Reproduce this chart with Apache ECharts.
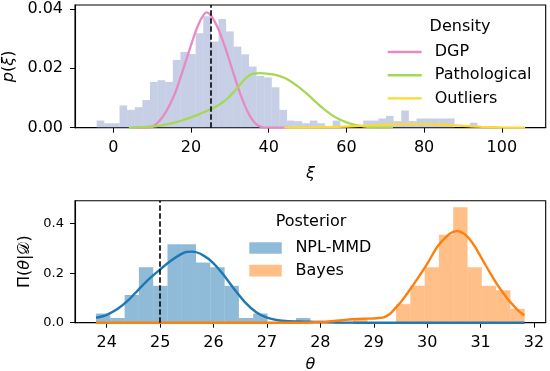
<!DOCTYPE html>
<html><head><meta charset="utf-8">
<script src="https://cdn.jsdelivr.net/npm/echarts@6/dist/echarts.min.js"></script>
<style>html,body{margin:0;padding:0;background:#fff}#c{width:550px;height:371px}</style>
</head><body><div id="c"></div>
<script>
// ---------- Top panel: density of xi ----------
const xiBinStart = -4.28;
const xiBinWidth = 1.96;
const xiHist = [0.0024,0.0015,0.0015,0.0075,0.0060,0.0069,0.0093,0.0154,0.0160,0.0154,
                0.0228,0.0255,0.0248,0.0318,0.0375,0.0290,0.0366,0.0324,0.0273,0.0247,
                0.0206,0.0174,0.0169,0.0136,0.0060,0.0024,0.0022,0.0015,0.0024,0.0015,
                0.0000,0.0024,0.0000,0.0000,0.0000,0.0024,0.0024,0.0031,0.0040,0.0022,
                0.0058,0.0022,0.0031,0.0031,0.0031,0.0031,0.0031,0.0000,0.0000,0.0017];
const dgpCurve = [[5,0],[8,0],[10,0.0003],[11,0.0012],[12,0.0025],[13,0.0042],[14,0.0064],[15,0.0090],
                  [16,0.0120],[17,0.0157],[18,0.0197],[19,0.0238],[20,0.0278],[21,0.0317],[22,0.0350],
                  [23,0.0375],[24,0.0388],[25,0.0380],[26,0.0360],[27,0.0333],[28,0.0300],[29,0.0262],
                  [30,0.0222],[31,0.0180],[32,0.0140],[33,0.0103],[34,0.0070],[35,0.0043],[36,0.0023],
                  [37,0.0010],[38,0.0003],[39,0],[45,0]];
const pathCurve = [[4,0],[6,0.0001],[8,0.0002],[10,0.0004],[12,0.0007],[14,0.0012],[16,0.0018],
                   [18,0.0026],[20,0.0035],[22,0.0045],[24,0.0056],[26,0.0068],[28,0.0084],[30,0.0106],
                   [32,0.0135],[34,0.0165],[36,0.0182],[38,0.0184],[40,0.0181],[42,0.0177],[44,0.0168],
                   [46,0.0153],[48,0.0134],[50,0.0112],[52,0.0088],[54,0.0065],[56,0.0045],[58,0.0029],
                   [60,0.0018],[62,0.0010],[64,0.0005],[66,0.0002],[68,0.0001],[72,0]];
const outCurve = [[44,0],[50,0.0001],[55,0.0002],[60,0.0004],[65,0.0007],[70,0.0010],[75,0.0012],
                  [80,0.0012],[85,0.0010],[90,0.0006],[95,0.0003],[100,0.0001],[106,0]];
const xiTicks = [0,20,40,60,80,100];
const pTicks = [0,0.02,0.04];
const xiTrue = 25;

// ---------- Bottom panel: posterior of theta ----------
const thetaBinStart = 23.80;
const thetaBinWidth = 0.2675;
const nplHist = [0.037,0.019,0.112,0.224,0.149,0.317,0.317,0.243,0.224,0.149,
                 0.019,0.037,0,0,0.019,0,0,0,0,0,
                 0,0,0,0,0,0,0,0,0,0];
const bayesHist = [0,0,0,0,0,0,0,0,0,0,
                   0,0,0,0,0,0,0,0,0.019,0,
                   0,0.075,0.149,0.224,0.355,0.466,0.224,0.149,0.131,0.056];
const nplCurve = [[23.8,0.020],[24.0,0.032],[24.2,0.055],[24.4,0.090],[24.6,0.135],[24.8,0.178],
                  [25.0,0.215],[25.2,0.250],[25.4,0.278],[25.5,0.286],[25.6,0.287],[25.8,0.273],
                  [26.0,0.240],[26.2,0.190],[26.4,0.132],[26.6,0.080],[26.8,0.042],[27.0,0.020],
                  [27.2,0.010],[27.4,0.006],[27.6,0.005],[27.8,0.004],[28.0,0.003],[28.2,0.0015],
                  [28.4,0.0007],[28.6,0.0002],[28.8,0],[31.82,0]];
const bayesCurve = [[23.8,0],[27.4,0],[27.8,0.001],[28.0,0.003],[28.2,0.006],[28.4,0.010],[28.6,0.014],
                    [28.8,0.016],[29.0,0.017],[29.1,0.019],[29.2,0.023],[29.3,0.035],[29.4,0.058],
                    [29.5,0.082],[29.6,0.110],[29.8,0.172],[30.0,0.238],[30.2,0.310],[30.4,0.356],
                    [30.5,0.368],[30.55,0.370],[30.6,0.369],[30.7,0.358],[30.8,0.336],[30.9,0.305],
                    [31.0,0.268],[31.1,0.230],[31.2,0.193],[31.3,0.158],[31.4,0.127],[31.5,0.098],
                    [31.6,0.073],[31.7,0.050],[31.82,0.030]];
const thetaTicks = [24,25,26,27,28,29,30,31,32];
const postTicks = [0,0.2,0.4];
const thetaTrue = 25;

const FONT = 'DejaVu Sans';

function binsToRects(start, width, heights) {
  const out = [];
  heights.forEach((h, i) => { if (h > 0) out.push([start + i * width, start + (i + 1) * width, h]); });
  return out;
}
function histRender(params, api) {
  const p0 = api.coord([api.value(0), api.value(2)]);
  const p1 = api.coord([api.value(1), 0]);
  return { type: 'rect', shape: { x: p0[0], y: p0[1], width: p1[0] - p0[0], height: p1[1] - p0[1] },
           style: { fill: api.visual('color') } };
}
function dashed(x) {
  return { silent: true, symbol: ['none','none'], label: { show: false },
           lineStyle: { color: '#000', type: [5.5, 2.5], width: 1.6 }, data: [{ xAxis: x }], z: 20 };
}

const chart = echarts.init(document.getElementById('c'), null, { renderer: 'canvas' });
const axisCommon = {
  axisLine: { show: true, onZero: false, lineStyle: { color: '#000', width: 1.1 } },
  axisTick: { show: true, length: 5, lineStyle: { color: '#000', width: 1 } },
  splitLine: { show: false }
};
chart.setOption({
  animation: false,
  backgroundColor: '#fff',
  textStyle: { fontFamily: FONT },
  grid: [
    { left: 75, right: 4.3, top: 5, height: 122.7, show: true, borderColor: '#000', borderWidth: 1.1,
      backgroundColor: 'transparent', containLabel: false, outerBoundsMode: 'none' },
    { left: 75, right: 4.3, top: 200.7, height: 122, show: true, borderColor: '#000', borderWidth: 1.1,
      backgroundColor: 'transparent', containLabel: false, outerBoundsMode: 'none' }
  ],
  xAxis: [
    Object.assign({}, axisCommon, { type: 'value', gridIndex: 0, min: -9.86, max: 111.3,
      axisTick: Object.assign({}, axisCommon.axisTick, { customValues: xiTicks }),
      axisLabel: { customValues: xiTicks, color: '#000', fontSize: 16, fontFamily: FONT, margin: 12 },
      name: '{i|ξ}', nameLocation: 'middle', nameGap: 38,
      nameTextStyle: { rich: { i: { fontStyle: 'italic', fontSize: 16, fontFamily: FONT, color: '#000' } } } }),
    Object.assign({}, axisCommon, { type: 'value', gridIndex: 1, min: 23.406, max: 32.219,
      axisTick: Object.assign({}, axisCommon.axisTick, { customValues: thetaTicks }),
      axisLabel: { customValues: thetaTicks, color: '#000', fontSize: 16, fontFamily: FONT, margin: 12 },
      name: '{i|θ}', nameLocation: 'middle', nameGap: 34,
      nameTextStyle: { rich: { i: { fontStyle: 'italic', fontSize: 16, fontFamily: FONT, color: '#000' } } } })
  ],
  yAxis: [
    Object.assign({}, axisCommon, { type: 'value', gridIndex: 0, min: 0, max: 0.0413,
      axisTick: Object.assign({}, axisCommon.axisTick, { customValues: pTicks }),
      axisLabel: { customValues: pTicks, color: '#000', fontSize: 16, fontFamily: FONT, margin: 12,
                   formatter: v => v.toFixed(2) },
      name: '{i|p}{n|(}{i|ξ}{n|)}', nameLocation: 'middle', nameGap: 52, nameRotate: 90,
      nameTextStyle: { rich: { i: { fontStyle: 'italic', fontSize: 16, fontFamily: FONT, color: '#000' },
                               n: { fontSize: 16, fontFamily: FONT, color: '#000' } } } }),
    Object.assign({}, axisCommon, { type: 'value', gridIndex: 1, min: 0, max: 0.4929,
      axisTick: Object.assign({}, axisCommon.axisTick, { customValues: postTicks }),
      axisLabel: { customValues: postTicks, color: '#000', fontSize: 13, fontFamily: FONT, margin: 11,
                   formatter: v => v.toFixed(1) },
      name: '{n|Π(}{i|θ}{n||𝒟)}', nameLocation: 'middle', nameGap: 38, nameRotate: 90,
      nameTextStyle: { rich: { i: { fontStyle: 'italic', fontSize: 16, fontFamily: FONT, color: '#000' },
                               n: { fontSize: 16, fontFamily: FONT, color: '#000' } } } })
  ],
  legend: [
    { orient: 'vertical', left: 387.7, top: 44, padding: 0, itemWidth: 34, itemHeight: 2.4, itemGap: 7.2,
      textStyle: { fontSize: 16, fontFamily: FONT, color: '#000', padding: [0, 0, 0, 8] },
      data: [ { name: 'DGP', icon: 'rect' }, { name: 'Pathological', icon: 'rect' }, { name: 'Outliers', icon: 'rect' } ] },
    { orient: 'vertical', left: 249.3, top: 240, padding: 0, itemWidth: 32.4, itemHeight: 11.7, itemGap: 6.6,
      textStyle: { fontSize: 16, fontFamily: FONT, color: '#000', padding: [0, 0, 0, 8.7] },
      data: [ { name: 'NPL-MMD', icon: 'rect', itemStyle: { color: 'rgba(31,119,180,0.5)' } },
              { name: 'Bayes', icon: 'rect', itemStyle: { color: 'rgba(255,127,14,0.5)' } } ] }
  ],
  graphic: [
    { type: 'text', x: 460, y: 27, style: { text: 'Density', fontSize: 16, fontFamily: FONT, fill: '#000', align: 'center', verticalAlign: 'middle' } },
    { type: 'text', x: 311, y: 221.7, style: { text: 'Posterior', fontSize: 16, fontFamily: FONT, fill: '#000', align: 'center', verticalAlign: 'middle' } }
  ],
  series: [
    { type: 'custom', name: 'xi-hist', xAxisIndex: 0, yAxisIndex: 0, renderItem: histRender,
      itemStyle: { color: 'rgba(141,160,203,0.5)' }, encode: { x: [0, 1], y: 2 },
      data: binsToRects(xiBinStart, xiBinWidth, xiHist), z: 1 },
    { type: 'line', name: 'DGP', xAxisIndex: 0, yAxisIndex: 0, data: dgpCurve, showSymbol: false,
      smooth: 0.3, color: '#e78ac3', lineStyle: { color: '#e78ac3', width: 2.3 }, z: 3 },
    { type: 'line', name: 'Pathological', xAxisIndex: 0, yAxisIndex: 0, data: pathCurve, showSymbol: false,
      smooth: 0.3, color: '#a6d854', lineStyle: { color: '#a6d854', width: 2.3 }, z: 3 },
    { type: 'line', name: 'Outliers', xAxisIndex: 0, yAxisIndex: 0, data: outCurve, showSymbol: false,
      smooth: 0.3, color: '#ffd92f', lineStyle: { color: '#ffd92f', width: 2.3 }, z: 3,
      markLine: dashed(xiTrue) },
    { type: 'custom', name: 'NPL-MMD', xAxisIndex: 1, yAxisIndex: 1, renderItem: histRender,
      itemStyle: { color: 'rgba(31,119,180,0.5)' }, encode: { x: [0, 1], y: 2 },
      data: binsToRects(thetaBinStart, thetaBinWidth, nplHist), z: 1 },
    { type: 'custom', name: 'Bayes', xAxisIndex: 1, yAxisIndex: 1, renderItem: histRender,
      itemStyle: { color: 'rgba(255,127,14,0.5)' }, encode: { x: [0, 1], y: 2 },
      data: binsToRects(thetaBinStart, thetaBinWidth, bayesHist), z: 1 },
    { type: 'line', name: 'npl-kde', xAxisIndex: 1, yAxisIndex: 1, data: nplCurve, showSymbol: false,
      smooth: 0.3, lineStyle: { color: '#1f77b4', width: 2.4 }, z: 3 },
    { type: 'line', name: 'bayes-kde', xAxisIndex: 1, yAxisIndex: 1, data: bayesCurve, showSymbol: false,
      smooth: 0.3, lineStyle: { color: '#ff7f0e', width: 2.4 }, z: 3,
      markLine: dashed(thetaTrue) }
  ]
});
</script></body></html>
